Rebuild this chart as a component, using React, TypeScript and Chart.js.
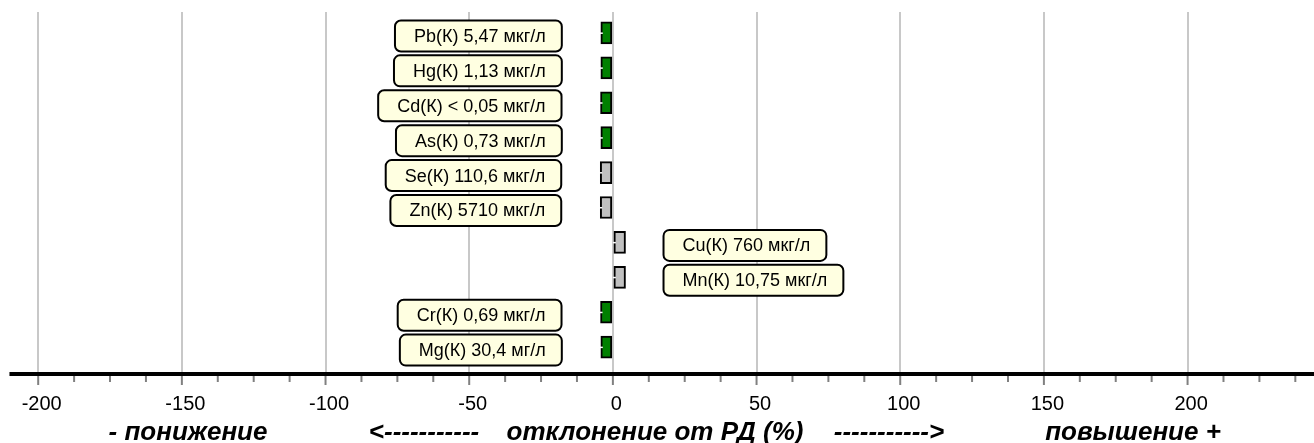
import React, { useEffect, useRef } from 'react';
import { Chart, registerables } from 'chart.js';

Chart.register(...registerables);

// ---- data ----
const CATEGORIES = [
  'Pb(К) 5,47 мкг/л',
  'Hg(К) 1,13 мкг/л',
  'Cd(К) < 0,05 мкг/л',
  'As(К) 0,73 мкг/л',
  'Se(К) 110,6 мкг/л',
  'Zn(К) 5710 мкг/л',
  'Cu(К) 760 мкг/л',
  'Mn(К) 10,75 мкг/л',
  'Cr(К) 0,69 мкг/л',
  'Mg(К) 30,4 мг/л',
];
const DEVIATIONS = [-4.2, -4.2, -4.3, -4.2, -4.4, -4.4, 4.4, 4.4, -4.3, -4.2];
const IN_NORM = [true, true, true, true, false, false, false, false, true, true];
const MAJOR_TICKS = [-200, -150, -100, -50, 0, 50, 100, 150, 200];
const MINOR_STEP = 12.5;
const X_MIN = -210;
const X_MAX = 244;
const TITLE_PARTS = ['- понижение', '<-----------', 'отклонение от РД (%)', '----------->', 'повышение +'];

// ---- style / layout ----
const FONT = '"Liberation Sans", Arial, sans-serif';
const GREEN = '#008000';
const GREY = '#c0c0c0';
const TITLE_CENTERS_PX = [188, 424, 655, 889, 1133];

const axisPlugin = {
  id: 'axisDecor',
  afterDraw(chart: any) {
    const { ctx, chartArea } = chart;
    const xs = chart.scales.x;
    ctx.save();
    ctx.strokeStyle = '#808080';
    ctx.lineWidth = 2;
    for (const t of xs.ticks) {
      const px = xs.getPixelForValue(t.value);
      const major = MAJOR_TICKS.includes(t.value);
      ctx.beginPath();
      ctx.moveTo(px, chartArea.bottom);
      ctx.lineTo(px, chartArea.bottom + (major ? 11 : 8));
      ctx.stroke();
    }
    ctx.strokeStyle = '#000';
    ctx.lineWidth = 4;
    ctx.beginPath();
    ctx.moveTo(chartArea.left, chartArea.bottom);
    ctx.lineTo(chartArea.right, chartArea.bottom);
    ctx.stroke();
    ctx.fillStyle = '#000';
    ctx.font = `italic bold 26px ${FONT}`;
    ctx.textAlign = 'center';
    ctx.textBaseline = 'alphabetic';
    TITLE_PARTS.forEach((s, i) => {
      ctx.fillText(s, TITLE_CENTERS_PX[i], 440);
    });
    ctx.restore();
  },
};

const labelPlugin = {
  id: 'labelBoxes',
  afterDatasetsDraw(chart: any) {
    const { ctx } = chart;
    const meta = chart.getDatasetMeta(0);
    ctx.save();
    ctx.font = `18px ${FONT}`;
    ctx.textBaseline = 'middle';
    ctx.textAlign = 'center';
    meta.data.forEach((bar: any, i: number) => {
      // small white notch on the bar's left edge
      const barLeft = Math.min(bar.x, bar.base);
      ctx.fillStyle = '#fff';
      ctx.fillRect(barLeft - 1, bar.y - 0.5, 3, 1.5);

      const text = CATEGORIES[i];
      const w = ctx.measureText(text).width + 35;
      const h = 31;
      const cy = bar.y + 3;
      let left: number;
      if (DEVIATIONS[i] < 0) {
        const right = barLeft - 39;
        left = right - w;
      } else {
        left = Math.max(bar.x, bar.base) + 38;
      }
      ctx.beginPath();
      ctx.roundRect(left, cy - h / 2, w, h, 6);
      ctx.fillStyle = '#ffffe1';
      ctx.fill();
      ctx.lineWidth = 2;
      ctx.strokeStyle = '#000';
      ctx.stroke();
      ctx.fillStyle = '#000';
      ctx.fillText(text, left + w / 2 + 1.5, cy + 1);
    });
    ctx.restore();
  },
};

export default function App() {
  const ref = useRef<HTMLCanvasElement | null>(null);

  useEffect(() => {
    if (!ref.current) return;
    const chart = new Chart(ref.current, {
      type: 'bar',
      data: {
        datasets: [
          {
            data: DEVIATIONS.map((v, i) => ({ x: v, y: i })),
            backgroundColor: IN_NORM.map((n) => (n ? GREEN : GREY)),
            borderColor: '#000',
            borderWidth: 2,
            borderSkipped: false,
            barThickness: 22,
          } as any,
        ],
      },
      options: {
        indexAxis: 'y',
        animation: false,
        responsive: false,
        devicePixelRatio: 1,
        layout: { padding: { left: 8, right: 0, top: 12, bottom: 0 } },
        plugins: { legend: { display: false }, tooltip: { enabled: false } },
        scales: {
          y: {
            type: 'linear',
            reverse: true,
            offset: false,
            min: -0.6,
            max: 9.77,
            display: false,
          },
          x: {
            type: 'linear',
            min: X_MIN,
            max: X_MAX,
            afterBuildTicks(scale: any) {
              const ticks = [];
              for (let v = MAJOR_TICKS[0]; v <= X_MAX; v += MINOR_STEP) ticks.push({ value: v });
              scale.ticks = ticks;
            },
            afterFit(scale: any) {
              scale.height = 69;
            },
            border: { display: false },
            grid: {
              drawTicks: false,
              lineWidth: 2,
              color: (c: any) => (c.tick && MAJOR_TICKS.includes(c.tick.value) ? '#c8c8c8' : 'rgba(0,0,0,0)'),
            },
            ticks: {
              autoSkip: false,
              maxRotation: 0,
              padding: 18,
              labelOffset: 3.5,
              color: '#000',
              font: { family: FONT, size: 20 },
              callback: (v: any) => (MAJOR_TICKS.includes(Number(v)) ? String(v) : ''),
            },
          },
        },
      },
      plugins: [axisPlugin, labelPlugin],
    });
    return () => chart.destroy();
  }, []);

  return (
    <div style={{ position: 'absolute', left: 0, top: 0, width: 1314, height: 443, background: '#fff' }}>
      <canvas ref={ref} width={1314} height={443} style={{ display: 'block' }} />
    </div>
  );
}
